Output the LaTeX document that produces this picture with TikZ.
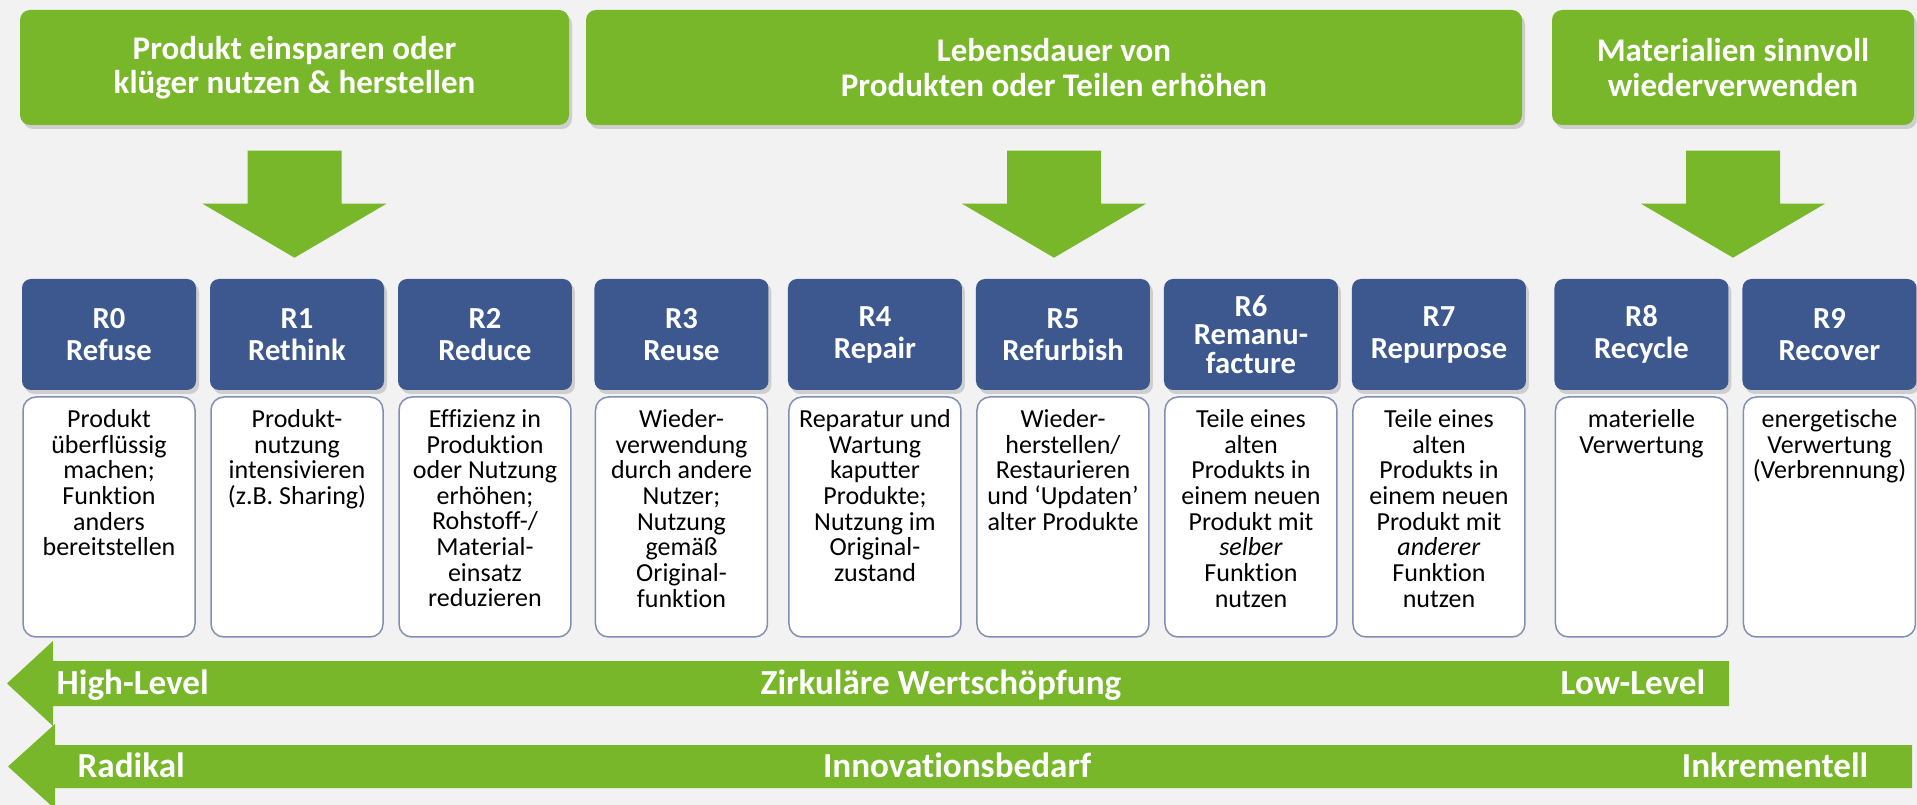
\documentclass[tikz,border=0pt]{standalone}
\usepackage{fontspec}
\setmainfont{Carlito}[Ligatures={TeX,NoCommon}]
\usetikzlibrary{positioning, shadows}

\definecolor{rgreen}{RGB}{119,183,41}
\definecolor{rblue}{RGB}{60,88,143}
\definecolor{rgrey}{RGB}{242,242,242}
\definecolor{rframe}{RGB}{128,143,178}

\begin{document}
\begin{tikzpicture}
    [
        x=0.1mm, y=-0.1mm,
        node distance=18.25mm and 18.8mm, on grid,
        green_box/.style={rectangle, rounded corners=1mm, fill=rgreen, text=white, minimum height=11.5mm, align=center, inner sep=0pt, font=\fontsize{9.4pt}{9.7pt}\selectfont\bfseries, drop shadow={shadow xshift=0.3mm, shadow yshift=-0.4mm, opacity=0.25, fill=black!60}},
        blue_node/.style={rectangle, rounded corners=0.9mm, fill=rblue, text=white, minimum width=17.4mm, minimum height=11.1mm, align=center, inner sep=0pt, font=\fontsize{8.7pt}{9.1pt}\selectfont\bfseries, execute at begin node={\rule{0pt}{8.3pt}}, drop shadow={shadow xshift=0.3mm, shadow yshift=-0.4mm, opacity=0.25, fill=black!60}},
        white_node/.style={rectangle, rounded corners=1.3mm, draw=rframe, line width=0.15mm, fill=white, minimum width=17.2mm, minimum height=24mm},
        desc_text/.style={anchor=north, align=center, inner sep=0pt, font=\fontsize{7.4pt}{7.3pt}\selectfont},
        bar_text/.style={text=white, inner sep=0pt, font=\fontsize{10pt}{12pt}\selectfont\bfseries},
    ]
        \useasboundingbox[fill=rgrey] (0,0) rectangle (1917,805);

        % oberste Ebene
        \node[green_box, minimum width=54.9mm] (sparen) at (294.5,67.5) {Produkt einsparen oder\\klüger nutzen \& herstellen};
        \node[green_box, minimum width=93.6mm] (lebensdauer) at (1054,67.5) {Lebensdauer von\\Produkten oder Teilen erhöhen};
        \node[green_box, minimum width=36.2mm] (materialien) at (1733,67.5) {Materialien sinnvoll\\wiederverwenden};

        \fill[rgreen] ([yshift=-2.5mm]sparen.south) ++(-47,0) -- ++(0,53) -- ++(-45,0) -- ++(92,54) -- ++(92,-54) -- ++(-45,0) -- ++(0,-53) -- cycle;
        \fill[rgreen] ([yshift=-2.5mm]lebensdauer.south) ++(-47,0) -- ++(0,53) -- ++(-45,0) -- ++(92,54) -- ++(92,-54) -- ++(-45,0) -- ++(0,-53) -- cycle;
        \fill[rgreen] ([yshift=-2.5mm]materialien.south) ++(-47,0) -- ++(0,53) -- ++(-45,0) -- ++(92,54) -- ++(92,-54) -- ++(-45,0) -- ++(0,-53) -- cycle;

        % R0 bis R9
        \node[blue_node] (r0) at (109,334.5) {R0\\Refuse};
        \node[blue_node] (r1) [right = of r0] {R1\\Rethink};
        \node[blue_node] (r2) [right = of r1] {R2\\Reduce};
        \node[blue_node] (r3) [right = 19.65mm of r2] {R3\\Reuse};
        \node[blue_node] (r4) [right = 19.35mm of r3] {R4\\Repair};
        \node[blue_node] (r5) [right = of r4] {R5\\Refurbish};
        \node[blue_node, font=\fontsize{8.7pt}{8.1pt}\selectfont\bfseries, execute at begin node={}] (r6) [right = of r5] {R6\\Remanu-\\facture};
        \node[blue_node] (r7) [right = of r6] {R7\\Repurpose};
        \node[blue_node] (r8) [right = 20.25mm of r7] {R8\\Recycle};
        \node[blue_node] (r9) [right = of r8] {R9\\Recover};

        \node[white_node] (b0) [below = of r0] {};
        \node[white_node] (b1) [below = of r1] {};
        \node[white_node] (b2) [below = of r2] {};
        \node[white_node] (b3) [below = of r3] {};
        \node[white_node] (b4) [below = of r4] {};
        \node[white_node] (b5) [below = of r5] {};
        \node[white_node] (b6) [below = of r6] {};
        \node[white_node] (b7) [below = of r7] {};
        \node[white_node] (b8) [below = of r8] {};
        \node[white_node] (b9) [below = of r9] {};

        \node[desc_text] (t0) at ([yshift=-1.25mm]b0.north) {Produkt\\überflüssig\\machen;\\Funktion\\anders\\bereitstellen};
        \node[desc_text] (t1) at ([yshift=-1.25mm]b1.north) {Produkt-\\nutzung\\intensivieren\\(z.B. Sharing)};
        \node[desc_text] (t2) at ([yshift=-1.25mm]b2.north) {Effizienz in\\Produktion\\oder Nutzung\\erhöhen;\\Rohstoff-/\\Material-\\einsatz\\reduzieren};
        \node[desc_text] (t3) at ([yshift=-1.25mm]b3.north) {Wieder-\\verwendung\\durch andere\\Nutzer;\\Nutzung\\gemäß\\Original-\\funktion};
        \node[desc_text] (t4) at ([yshift=-1.25mm]b4.north) {Reparatur und\\Wartung\\kaputter\\Produkte;\\Nutzung im\\Original-\\zustand};
        \node[desc_text] (t5) at ([yshift=-1.25mm]b5.north) {Wieder-\\herstellen/\\Restaurieren\\und `Updaten'\\alter Produkte};
        \node[desc_text] (t6) at ([yshift=-1.25mm]b6.north) {Teile eines\\alten\\Produkts in\\einem neuen\\Produkt mit\\\textit{selber}\\Funktion\\nutzen};
        \node[desc_text] (t7) at ([yshift=-1.25mm]b7.north) {Teile eines\\alten\\Produkts in\\einem neuen\\Produkt mit\\\textit{anderer}\\Funktion\\nutzen};
        \node[desc_text] (t8) at ([yshift=-1.25mm]b8.north) {materielle\\Verwertung};
        \node[desc_text] (t9) at ([yshift=-1.25mm]b9.north) {energetische\\Verwertung\\(Verbrennung)};

        % Pfeile unten
        \fill[rgreen] (1729,661) -- (53,661) -- (53,641) -- (7,683.5) -- (53,726) -- (53,706) -- (1729,706) -- cycle;
        \fill[rgreen] (1912,745) -- (55,745) -- (55,724) -- (8,766.5) -- (55,809) -- (55,788) -- (1912,788) -- cycle;

        \node[bar_text, anchor=base west] (high) at (56,694.5) {High-Level};
        \node[bar_text, anchor=base] (wertschoepfung) at (941,694.5) {Zirkuläre Wertschöpfung};
        \node[bar_text, anchor=base east] (low) at (1706,694.5) {Low-Level};
        \node[bar_text, anchor=base west] (radikal) at (77,777.5) {Radikal};
        \node[bar_text, anchor=base] (innovation) at (957,777.5) {Innovationsbedarf};
        \node[bar_text, anchor=base east] (inkrementell) at (1869,777.5) {Inkrementell};
    \end{tikzpicture}
\end{document}
